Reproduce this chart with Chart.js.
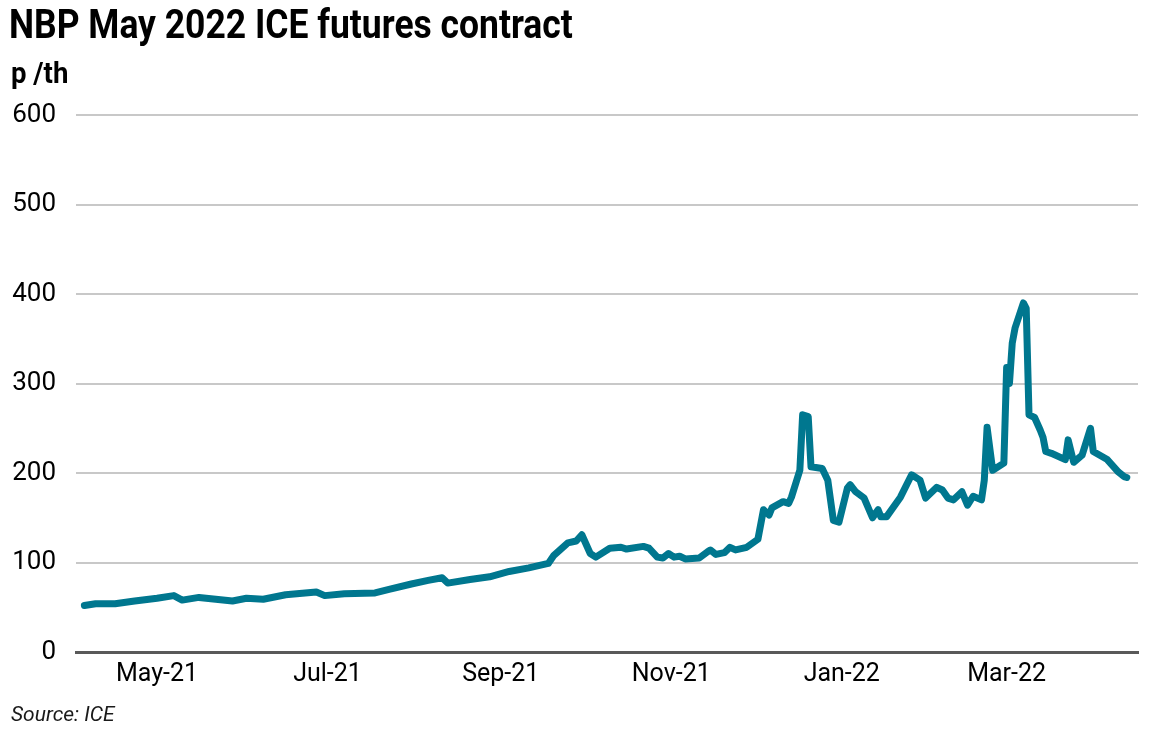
<!DOCTYPE html>
<html>
<head>
<meta charset="utf-8">
<title>NBP May 2022 ICE futures contract</title>
<script src="https://cdn.jsdelivr.net/npm/chart.js@4"></script>
<style>
  html, body { margin: 0; padding: 0; background: #ffffff; }
  #wrap { position: relative; width: 1157px; height: 743px; }
</style>
</head>
<body>
<div id="wrap"><canvas id="nbp-chart" width="1157" height="743"></canvas></div>
<script>
const chartTitle = 'NBP May 2022 ICE futures contract';
const unitLabel = 'p /th';
const sourceNote = 'Source: ICE';

// trade dates and settlement prices (p/th)
const priceDates = [
    '2021-04-05', '2021-04-09', '2021-04-16', '2021-04-23', '2021-05-01', '2021-05-07',
    '2021-05-10', '2021-05-16', '2021-05-22', '2021-05-28', '2021-06-02', '2021-06-08',
    '2021-06-16', '2021-06-27', '2021-06-30', '2021-07-07', '2021-07-18', '2021-07-23',
    '2021-07-31', '2021-08-06', '2021-08-11', '2021-08-13', '2021-08-21', '2021-08-28',
    '2021-09-04', '2021-09-11', '2021-09-18', '2021-09-20', '2021-09-25', '2021-09-28',
    '2021-09-30', '2021-10-03', '2021-10-05', '2021-10-10', '2021-10-14', '2021-10-16',
    '2021-10-22', '2021-10-24', '2021-10-27', '2021-10-29', '2021-10-31', '2021-11-02',
    '2021-11-04', '2021-11-06', '2021-11-11', '2021-11-14', '2021-11-15', '2021-11-17',
    '2021-11-20', '2021-11-22', '2021-11-24', '2021-11-28', '2021-12-02', '2021-12-04',
    '2021-12-06', '2021-12-07', '2021-12-11', '2021-12-13', '2021-12-14', '2021-12-17',
    '2021-12-18', '2021-12-20', '2021-12-21', '2021-12-25', '2021-12-27', '2021-12-29',
    '2021-12-31', '2022-01-03', '2022-01-04', '2022-01-06', '2022-01-09', '2022-01-12',
    '2022-01-14', '2022-01-15', '2022-01-17', '2022-01-22', '2022-01-26', '2022-01-29',
    '2022-01-31', '2022-02-04', '2022-02-06', '2022-02-08', '2022-02-10', '2022-02-13',
    '2022-02-15', '2022-02-17', '2022-02-20', '2022-02-21', '2022-02-22', '2022-02-24',
    '2022-02-28', '2022-03-01', '2022-03-02', '2022-03-03', '2022-03-04', '2022-03-07',
    '2022-03-08', '2022-03-09', '2022-03-11', '2022-03-13', '2022-03-14', '2022-03-15',
    '2022-03-17', '2022-03-22', '2022-03-23', '2022-03-25', '2022-03-28', '2022-03-31',
    '2022-04-01', '2022-04-06', '2022-04-10', '2022-04-12', '2022-04-13'
];
const priceValues = [
    52, 54, 54, 57, 60, 63,
    58, 61, 59, 57, 60, 59,
    64, 67, 63, 65, 66, 70,
    76, 80, 83, 77, 81, 84,
    90, 94, 99, 108, 122, 124,
    131, 110, 106, 116, 117, 115,
    118, 116, 106, 105, 110, 106,
    107, 104, 105, 112, 114, 109,
    111, 117, 114, 117, 126, 159,
    153, 161, 168, 166, 173, 203,
    265, 263, 207, 205, 192, 147,
    145, 183, 187, 179, 172, 150,
    159, 151, 151, 173, 198, 192,
    172, 184, 181, 172, 170, 179,
    164, 174, 170, 192, 251, 203,
    211, 318, 300, 345, 362, 390,
    384, 265, 262, 248, 240, 224,
    222, 215, 237, 212, 220, 250,
    224, 215, 201, 196, 195
];

// x axis labels and where they sit
const tickDates = ['2021-05-01', '2021-07-01', '2021-09-01', '2021-11-01', '2022-01-01', '2022-03-01'];
const tickLabels = ['May-21', 'Jul-21', 'Sep-21', 'Nov-21', 'Jan-22', 'Mar-22'];
const axisStart = '2021-04-02';
const axisEnd = '2022-04-17';

const yMin = 0;
const yMax = 600;
const yStep = 100;

const FONT = '"Roboto", "DejaVu Sans", sans-serif';
const LINE_COLOUR = '#00778f';

function toTime(s) {
    return new Date(s + 'T00:00:00Z').getTime();
}

// title, unit and source are drawn straight onto the canvas
// (squeezed a little sideways to get near the condensed face of the original)
const textPlugin = {
    id: 'textBits',
    afterDraw(chart) {
        const ctx = chart.ctx;
        ctx.save();
        ctx.fillStyle = '#000000';
        ctx.textAlign = 'left';
        ctx.textBaseline = 'alphabetic';

        ctx.save();
        ctx.translate(9, 38);
        ctx.scale(0.865, 1);
        ctx.font = 'bold 41px ' + FONT;
        ctx.fillText(chartTitle, 0, 0);
        ctx.restore();

        ctx.save();
        ctx.translate(11, 83);
        ctx.scale(0.95, 1);
        ctx.font = 'bold 29px ' + FONT;
        ctx.fillText(unitLabel, 0, 0);
        ctx.restore();

        ctx.font = 'italic 21px ' + FONT;
        ctx.fillStyle = '#1a1a1a';
        ctx.fillText(sourceNote, 11, 721);
        ctx.restore();
    }
};

function createChart() {
    const ctx = document.getElementById('nbp-chart').getContext('2d');

    return new Chart(ctx, {
        type: 'line',
        data: {
            datasets: [{
                label: 'NBP May 2022',
                data: priceDates.map((d, i) => ({ x: toTime(d), y: priceValues[i] })),
                borderColor: LINE_COLOUR,
                borderWidth: 7,
                borderJoinStyle: 'round',
                borderCapStyle: 'round',
                pointRadius: 0,
                tension: 0,
                fill: false
            }]
        },
        options: {
            responsive: false,
            animation: false,
            layout: {
                padding: { top: 115, right: 19, bottom: 43, left: 0 }
            },
            plugins: {
                legend: { display: false },
                tooltip: { enabled: false }
            },
            scales: {
                x: {
                    type: 'linear',
                    min: toTime(axisStart),
                    max: toTime(axisEnd),
                    afterBuildTicks: scale => {
                        scale.ticks = tickDates.map(d => ({ value: toTime(d) }));
                    },
                    afterFit: scale => { scale.height = 48; },
                    grid: { display: false, drawTicks: false },
                    border: { display: true, color: '#595959', width: 3 },
                    ticks: {
                        autoSkip: false,
                        maxRotation: 0,
                        padding: 8,
                        color: '#000000',
                        font: { family: FONT, size: 25 },
                        callback: (value, index) => tickLabels[index]
                    }
                },
                y: {
                    min: yMin,
                    max: yMax,
                    afterFit: scale => { scale.width = 76; },
                    grid: {
                        drawTicks: false,
                        lineWidth: 2,
                        color: c => c.tick && c.tick.value === 0 ? 'rgba(0,0,0,0)' : '#c8c8c8'
                    },
                    border: { display: false },
                    ticks: {
                        stepSize: yStep,
                        padding: 20,
                        color: '#000000',
                        font: { family: FONT, size: 26 }
                    }
                }
            }
        },
        plugins: [textPlugin]
    });
}

document.addEventListener('DOMContentLoaded', () => {
    createChart();
});
</script>
</body>
</html>
